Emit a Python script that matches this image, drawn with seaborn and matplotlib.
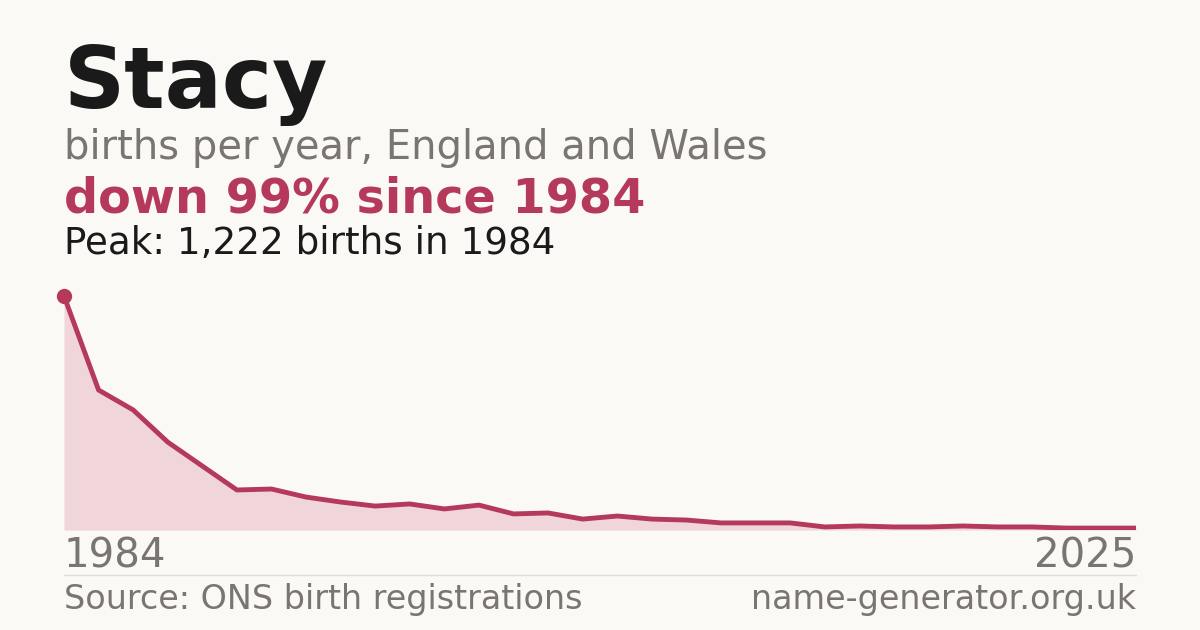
import matplotlib
matplotlib.use("Agg")
import matplotlib.pyplot as plt
import seaborn as sns
import pandas as pd

sns.set_theme(style="white")
plt.rcParams['font.family'] = ['DejaVu Sans']

name = "Stacy"
subtitle = "births per year, England and Wales"
headline = "down 99% since 1984"
peak_text = "Peak: 1,222 births in 1984"
tick_labels = ["1984", "2025"]
births = [1222, 731, 627, 459, 334, 209, 214, 172, 146, 125, 136, 110, 130, 84, 89, 57,
          73, 57, 52, 37, 37, 37, 16, 21, 16, 16, 21, 16, 16, 10, 10, 10]
pos = list(range(len(births)))

BG = "#faf9f5"; RED = "#b5395a"; FILL = "#f0d5db"; GREY = "#7a7570"
fig = plt.figure(figsize=(12, 6.3), dpi=100, facecolor=BG)
ax = fig.add_axes([64/1200, 1-530/630, (1136-64)/1200, (530-296)/630])
ax.set_facecolor(BG)
df = pd.DataFrame({"x": pos, "y": births})
ax.fill_between(df.x, df.y, 0, color=FILL, lw=0)
sns.lineplot(data=df, x="x", y="y", ax=ax, color=RED, lw=3.5)
ax.plot([0], [births[0]], "o", color=RED, ms=10, clip_on=False)
ax.set_xlim(0, len(births)-1); ax.set_ylim(0, max(births))
ax.axis("off")

fig.text(64/1200, 1-84/630, name, fontsize=61, fontweight="bold", color="#1a1a1a", va="center")
fig.text(64/1200, 1-148/630, subtitle, fontsize=28.8, color=GREY, va="center")
fig.text(64/1200, 1-199/630, headline, fontsize=34.4, fontweight="bold", color=RED, va="center")
fig.text(64/1200, 1-243/630, peak_text, fontsize=26.8, color="#1a1a1a", va="center")
fig.text(64/1200, 1-557/630, tick_labels[0], fontsize=29, color=GREY, va="center")
fig.text(1136/1200, 1-557/630, tick_labels[1], fontsize=29, color=GREY, va="center", ha="right")
fig.add_artist(plt.Line2D([64/1200, 1136/1200], [1-575/630]*2, color="#e0ddd6", lw=1))
fig.text(64/1200, 1-600/630, "Source: ONS birth registrations", fontsize=24, color=GREY, va="center")
fig.text(1136/1200, 1-600/630, "name-generator.org.uk", fontsize=24, color=GREY, va="center", ha="right")
fig.savefig("out.png", dpi=100, facecolor=BG)
